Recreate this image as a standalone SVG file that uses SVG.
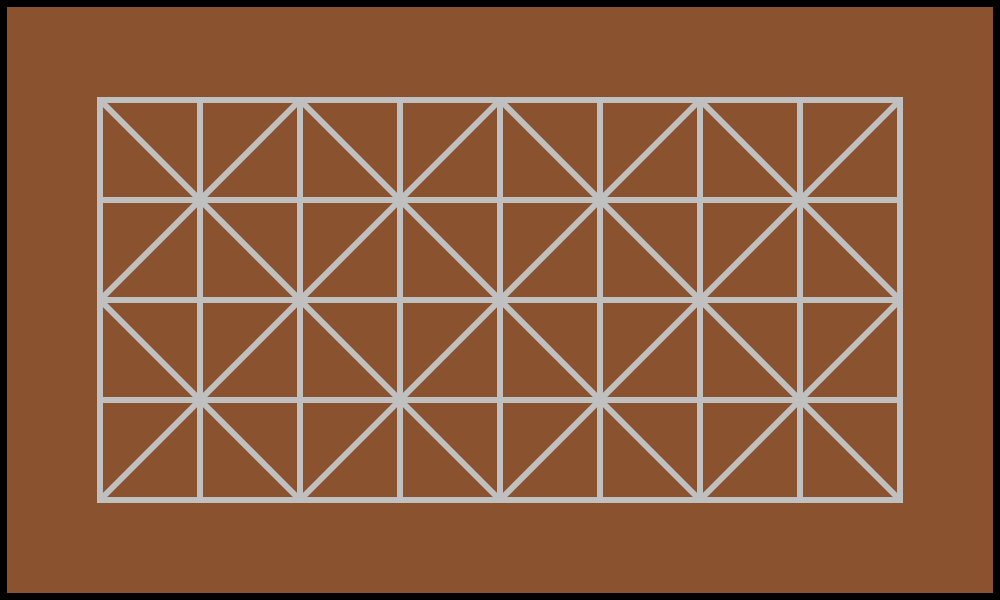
<svg xmlns="http://www.w3.org/2000/svg" width="1000" height="600" viewBox="0 0 1000 600">
<style>
.g{stroke:#C0C0C0;stroke-width:6;fill:none;stroke-linecap:square}
.d{stroke:#C0C0C0;stroke-width:6;fill:none;stroke-linecap:butt}
</style>
<rect x="0" y="0" width="1000" height="600" fill="#000"/>
<rect x="7" y="7" width="986" height="586" fill="#8B5230"/>
<g id="diagonals" class="d">
<path d="M100 100L500 500M300 100L100 300M100 300L300 500M300 100L700 500M500 100L100 500M500 100L900 500M700 100L300 500M700 100L900 300M900 100L500 500M900 300L700 500"/>
</g>
<g id="grid" class="g">
<rect x="100" y="100" width="800" height="400"/>
<path d="M200 100V500M300 100V500M400 100V500M500 100V500M600 100V500M700 100V500M800 100V500M100 200H900M100 300H900M100 400H900"/>
</g>
</svg>
